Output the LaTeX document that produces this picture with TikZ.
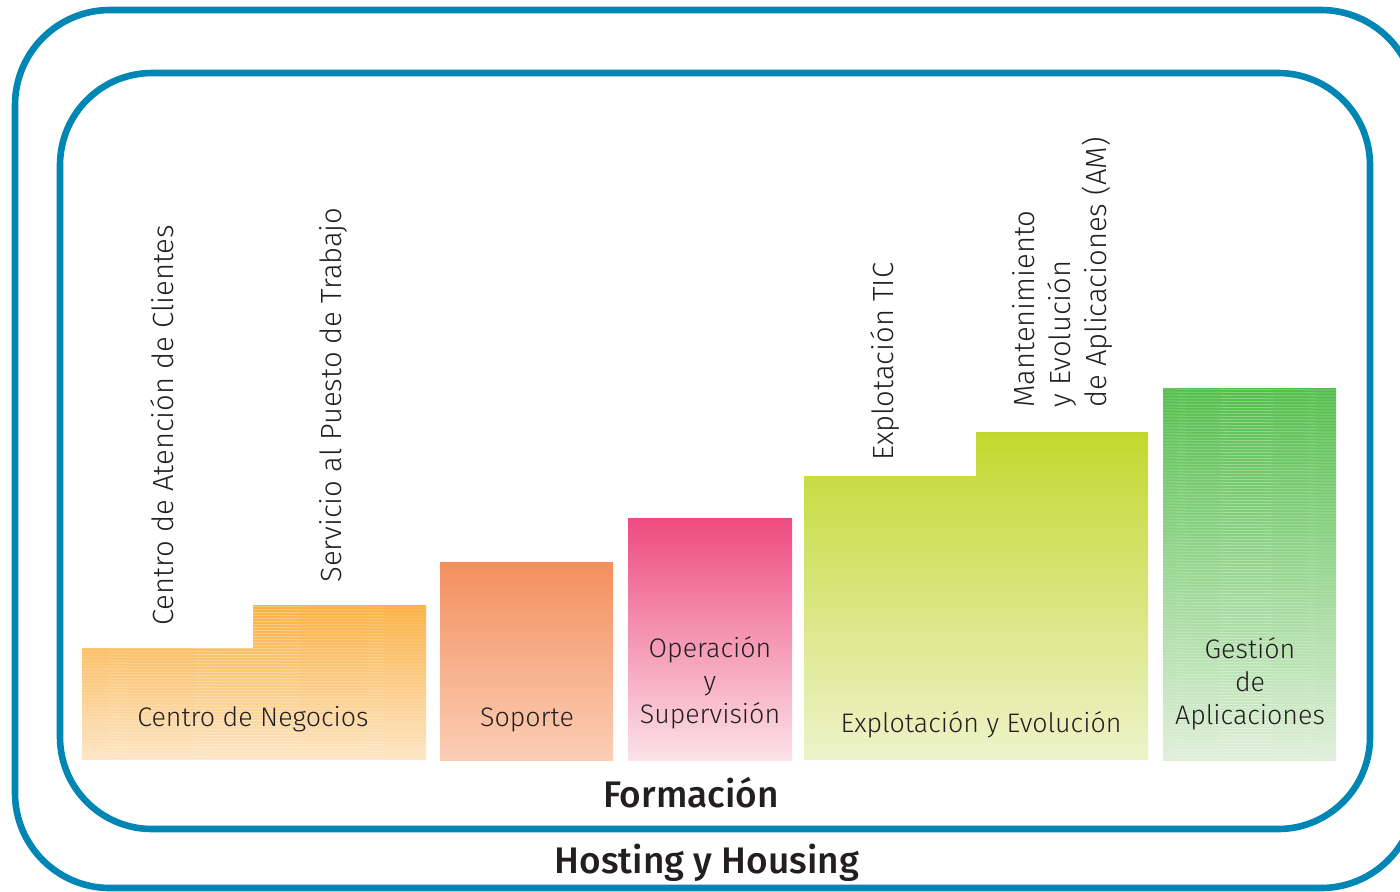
\documentclass[tikz,border=0pt]{standalone}
\usepackage{fontspec}
\setmainfont{Fira Sans Light}[BoldFont={Fira Sans Medium}]

\definecolor{frameblue}{RGB}{0,134,180}
\definecolor{txt}{RGB}{35,31,32}
\definecolor{cnTop}{RGB}{250,176,64}
\definecolor{cnBot}{RGB}{253,229,196}
\definecolor{spTop}{RGB}{244,143,94}
\definecolor{spBot}{RGB}{251,206,182}
\definecolor{osTop}{RGB}{238,75,128}
\definecolor{osBot}{RGB}{252,226,233}
\definecolor{eeTop}{RGB}{195,216,46}
\definecolor{eeBot}{RGB}{237,243,202}
\definecolor{gaTop}{RGB}{82,190,74}
\definecolor{gaBot}{RGB}{223,239,217}

\tikzset{
  frame/.style={draw=frameblue, line width=3.3pt},
  boxlbl/.style={font=\fontsize{13.4}{16.5}\selectfont, text=txt, align=center, inner sep=0pt},
  sidelbl/.style={font=\fontsize{14.6}{18}\selectfont, text=txt, rotate=90, inner sep=0pt},
  biglbl/.style={font=\fontsize{18.5}{20}\selectfont\bfseries, text=txt, inner sep=0pt},
  stripes/.style={white, opacity=0.3, line width=0.4pt},
}

\begin{document}
\begin{tikzpicture}[x=0.5pt, y=-0.5pt]
\useasboundingbox (0,0) rectangle (1400,891);

\draw[frame, rounded corners=47.5pt] (15,10) rectangle (1416,888);
\draw[frame, rounded corners=46pt] (60,73) rectangle (1370,829);

\shade[top color=cnTop, bottom color=cnBot] (82,760) -- (82,648) -- (253,648) -- (253,605) -- (426,605) -- (426,760) -- cycle;
\begin{scope}
\clip (82,760) -- (82,648) -- (253,648) -- (253,605) -- (426,605) -- (426,760) -- cycle;
\foreach \y in {606,609,...,760}
  \draw[stripes] (82,\y) -- (426,\y+1);
\end{scope}
\shade[top color=spTop, bottom color=spBot] (440,562) rectangle (613,760);
\shade[top color=osTop, bottom color=osBot] (628,518) rectangle (792,760);
\shade[top color=eeTop, bottom color=eeBot] (804,760) -- (804,476) -- (976,476) -- (976,432) -- (1148,432) -- (1148,760) -- cycle;
\shade[top color=gaTop, bottom color=gaBot] (1163,388) rectangle (1336,760);
\begin{scope}
\clip (1163,388) rectangle (1336,760);
\foreach \y in {389,392,...,760}
  \draw[stripes] (1163,\y) -- (1336,\y+1);
\end{scope}

\node[boxlbl, anchor=base] (negocios) at (253,726) {Centro de Negocios};
\node[boxlbl, anchor=base] (soporte) at (527,726) {Soporte};
\node[boxlbl] (operacion) at (710,683) {Operación\\y\\Supervisión};
\node[boxlbl, anchor=base] (explotacion) at (981,732) {Explotación y Evolución};
\node[boxlbl] (gestion) at (1250,684) {Gestión\\de\\Aplicaciones};

\node[sidelbl, anchor=base west] (atencion) at (173,626) {Centro de Atención de Clientes};
\node[sidelbl, anchor=base west] (puesto) at (341,583) {Servicio al Puesto de Trabajo};
\node[sidelbl, anchor=base west] (tic) at (893,461) {Explotación TIC};
\node[sidelbl, anchor=west, align=left] (mantenimiento) at (1062,408) {Mantenimiento\\y Evolución\\de Aplicaciones (AM)};

\node[biglbl, anchor=base] (formacion) at (691,807) {Formación};
\node[biglbl, anchor=base] (hosting) at (707,873) {Hosting y Housing};
\end{tikzpicture}
\end{document}
